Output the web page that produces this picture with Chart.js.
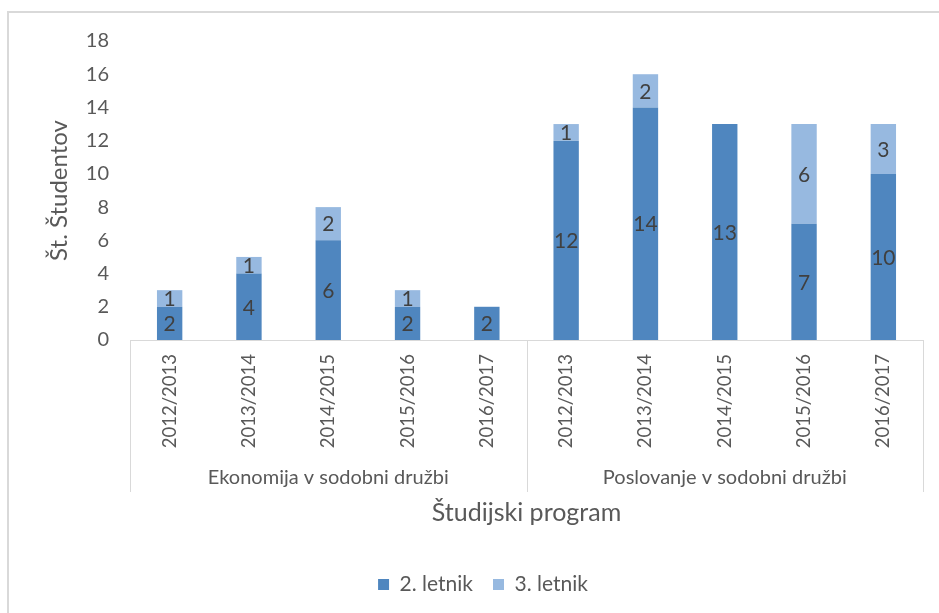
<!DOCTYPE html>
<html><head><meta charset="utf-8">
<script src="https://cdn.jsdelivr.net/npm/chart.js@4.4.0/dist/chart.umd.min.js"></script>
<style>
html,body{margin:0;padding:0;background:#fff;overflow:hidden;width:939px;height:613px;}
#frame{position:absolute;left:7px;top:11px;width:1000px;height:1000px;border:2px solid #d9d9d9;}
#c{position:absolute;left:0;top:0;}
</style></head><body>
<div id="frame"></div>
<canvas id="c" width="939" height="613"></canvas>
<script>
const years = ["2012/2013","2013/2014","2014/2015","2015/2016","2016/2017",
               "2012/2013","2013/2014","2014/2015","2015/2016","2016/2017"];
const groups = ["Ekonomija v sodobni družbi","Poslovanje v sodobni družbi"];
const groupSizes = [5,5];
const letnik2 = [2,4,6,2,2,12,14,13,7,10];
const letnik3 = [1,1,2,1,0,1,2,0,6,3];
const seriesNames = ["2. letnik","3. letnik"];
const yMax = 18, yStep = 2;
const yTitle = "Št. Študentov";
const xTitle = "Študijski program";

const FONT = "Lato";
const TXT = "#595959";

const groupPlugin = {
  id:'groups',
  afterDraw(chart){
    const x = chart.scales.x, ctx = chart.ctx, ca = chart.chartArea;
    const w = x.getPixelForValue(1) - x.getPixelForValue(0);
    ctx.save();
    ctx.strokeStyle = '#d9d9d9'; ctx.lineWidth = 1;
    let idx = 0;
    const edges = [0];
    groupSizes.forEach(s => { idx += s; edges.push(idx); });
    edges.forEach(e => {
      const px = Math.round(x.getPixelForValue(e) - w/2) + 0.5;
      ctx.beginPath(); ctx.moveTo(px, ca.bottom); ctx.lineTo(px, 492); ctx.stroke();
    });
    ctx.fillStyle = TXT; ctx.font = "20px " + FONT;
    ctx.textAlign = 'center'; ctx.textBaseline = 'middle';
    for (let g = 0; g < groups.length; g++) {
      const a = x.getPixelForValue(edges[g]) - w/2;
      const b = x.getPixelForValue(edges[g+1]) - w/2;
      ctx.fillText(groups[g], (a+b)/2, 478);
    }
    ctx.restore();
  }
};

const labelPlugin = {
  id:'vals',
  afterDatasetsDraw(chart){
    const ctx = chart.ctx;
    ctx.save();
    ctx.fillStyle = '#404040'; ctx.font = "21px " + FONT;
    ctx.textAlign = 'center'; ctx.textBaseline = 'middle';
    chart.data.datasets.forEach((ds, i) => {
      const meta = chart.getDatasetMeta(i);
      meta.data.forEach((el, j) => {
        const v = ds.data[j];
        if (!v) return;
        ctx.fillText(String(v), el.x, (el.y + el.base)/2 + 1);
      });
    });
    ctx.restore();
  }
};

new Chart(document.getElementById('c'), {
  type:'bar',
  data:{
    labels: years,
    datasets:[
      {label:seriesNames[0], data:letnik2, backgroundColor:'#4F86BF', categoryPercentage:0.8, barPercentage:0.4},
      {label:seriesNames[1], data:letnik3, backgroundColor:'#97B9E0', categoryPercentage:0.8, barPercentage:0.4}
    ]
  },
  plugins:[groupPlugin, labelPlugin],
  options:{
    responsive:false, animation:false,
    layout:{padding:{left:43, right:16, top:41, bottom:8}},
    plugins:{
      legend:{position:'bottom', labels:{boxWidth:11, boxHeight:11, color:TXT, font:{family:FONT, size:21}, padding:20}},
      tooltip:{enabled:false}
    },
    scales:{
      x:{
        stacked:true,
        grid:{display:false, drawTicks:false},
        border:{display:true, color:'#d9d9d9', width:1},
        ticks:{color:TXT, font:{family:FONT, size:18.5}, minRotation:90, maxRotation:90, padding:14, autoSkip:false},
        title:{display:true, text:xTitle, color:TXT, font:{family:FONT, size:25}, padding:{top:0,bottom:26}},
        afterFit(s){ s.height = 214; }
      },
      y:{
        stacked:true, min:0, max:yMax,
        grid:{display:false, drawTicks:false},
        border:{display:false},
        ticks:{stepSize:yStep, color:TXT, font:{family:FONT, size:20}, padding:21},
        title:{display:true, text:yTitle, color:TXT, font:{family:FONT, size:24}, padding:{top:2,bottom:0}},
        afterFit(s){ s.width = 87; }
      }
    }
  }
});
</script>
</body></html>
